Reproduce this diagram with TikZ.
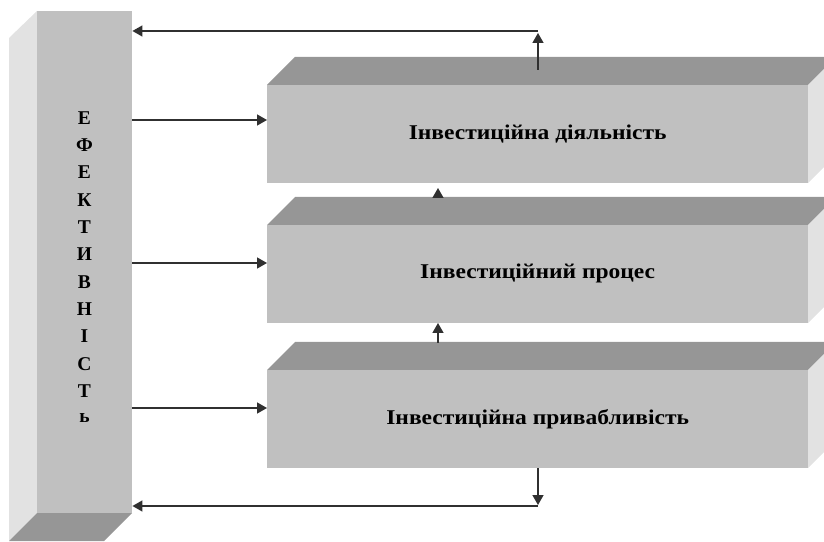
\documentclass[tikz,border=0pt]{standalone}
\usepackage{fontspec}
\setmainfont{Liberation Serif}
\newfontfamily\widefont[FakeStretch=1.12]{Liberation Serif}
\usetikzlibrary{arrows.meta}
\definecolor{frontc}{HTML}{C0C0C0}
\definecolor{topc}{HTML}{969696}
\definecolor{sidec}{HTML}{E2E2E2}
\definecolor{linec}{HTML}{303030}
\tikzset{
  front/.style={fill=frontc, draw=none, inner sep=0pt, anchor=south west},
  topface/.style={fill=topc, draw=none},
  sideface/.style={fill=sidec, draw=none},
  conn/.style={draw=linec, line width=1.4pt, -{Triangle[length=10pt,width=11pt]}},
  lbl/.style={font=\widefont\bfseries\fontsize{21}{24}\selectfont, text=black},
  letter/.style={font=\bfseries\fontsize{19.5}{22}\selectfont, text=black}
}
\begin{document}
\begin{tikzpicture}[x=1pt,y=1pt]
\useasboundingbox (0,0) rectangle (824,541);
\begin{scope}
\clip (0,0) rectangle (824,541);
% left bar
\fill[sideface] (37,530) -- (9,503) -- (9,0) -- (37,28) -- cycle;
\fill[topface] (37,28) -- (132,28) -- (104,0) -- (9,0) -- cycle;
\node[front, minimum width=95pt, minimum height=502pt] (bar) at (37,28) {};
% boxes
\foreach \n/\y in {b1/358, b2/218, b3/73}{
  \fill[topface] (267,\y+98) -- (295,\y+126) -- (836,\y+126) -- (808,\y+98) -- cycle;
  \fill[sideface] (808,\y+98) -- (836,\y+126) -- (836,\y+28) -- (808,\y) -- cycle;
  \node[front, minimum width=541pt, minimum height=98pt] (\n) at (267,\y) {};
}
\end{scope}
\node[lbl] at (b1.center) {Інвестиційна діяльність};
\node[lbl] at (b2.center) {Інвестиційний процес};
\node[lbl] at (b3.center) {Інвестиційна привабливість};
% vertical letters
\foreach \c [count=\i] in {Е,Ф,Е,К,Т,И,В,Н,І,С,Т,ь}{
  \node[letter] (L\i) at (84.5,541-118-27.3*\i+27.3) {\c};
}
% left arrows
\foreach \n/\y in {b1/421, b2/278, b3/133}{
  \draw[conn] (bar.east |- 0,\y) -- (\n.west |- 0,\y);
}
% top feedback
\coordinate (tA) at (538,471);
\coordinate (tB) at (538,510);
\draw[conn] (tA) -- (538,508);
\draw[conn] (tB) -- (bar.east |- tB);
% bottom feedback
\coordinate (bB) at (538,35);
\draw[conn] (b3.south -| tA) -- (538,36);
\draw[conn] (bB) -- (bar.east |- bB);
% middle arrows
\coordinate (m2) at (438,344);
\draw[conn] (m2) -- (438,353);
\draw[conn] (438,198) -- (b2.south -| m2);
\end{tikzpicture}
\end{document}
